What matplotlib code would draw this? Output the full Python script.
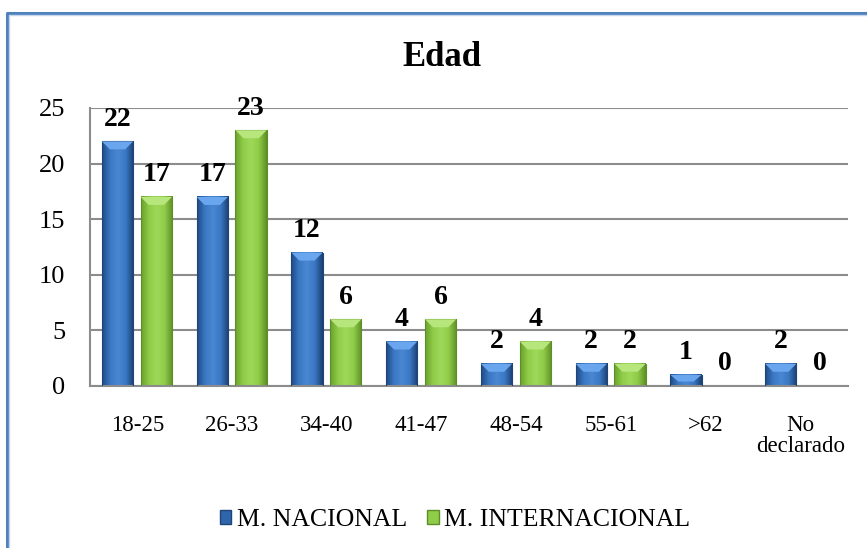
import numpy as np
import matplotlib.pyplot as plt
from matplotlib.colors import LinearSegmentedColormap
from matplotlib.patches import Polygon, Patch
from matplotlib.lines import Line2D

categorias = ['18-25', '26-33', '34-40', '41-47', '48-54', '55-61', '>62', 'No\ndeclarado']
nacional = [22, 17, 12, 4, 2, 2, 1, 2]
internacional = [17, 23, 6, 6, 4, 2, 0, 0]
series_names = ['M. NACIONAL', 'M. INTERNACIONAL']
yticks = [0, 5, 10, 15, 20, 25]

plt.rcParams['font.family'] = ['Liberation Serif', 'DejaVu Serif']

fig = plt.figure(figsize=(8.67, 5.48), dpi=100)
ax = fig.add_axes([90/867, 1-386/548, 758/867, 278/548])

# excel-ish bevel gradients
blue_cmap = LinearSegmentedColormap.from_list('b', ['#1f4a86', '#3a78c4', '#4a88d4', '#3a78c4', '#1b3f72'])
green_cmap = LinearSegmentedColormap.from_list('g', ['#6aa12c', '#8fcc48', '#9ed95a', '#8fcc48', '#5f8f26'])
grad = np.linspace(0, 1, 64).reshape(1, -1)

x = np.arange(len(categorias))
w = 0.33
offsets = [-0.21, 0.20]
ppu_y = 278 / 25.0   # pixels per y unit
ppu_x = 758 / 8.0

def draw_bars(xs, vals, cmap, top_col, edge_col):
    for xc, v in zip(xs, vals):
        if v <= 0:
            continue
        x0, x1 = xc - w/2, xc + w/2
        ax.imshow(grad, extent=[x0, x1, 0, v], aspect='auto', cmap=cmap, zorder=2,
                  interpolation='bicubic')
        ax.plot([x0, x0, x1, x1], [0, v, v, 0], color=edge_col, lw=0.8, zorder=3)
        b = min(8 / ppu_y, v * 0.6)
        d = 8 / ppu_x
        ax.add_patch(Polygon([(x0, v), (x1, v), (x1 - d, v - b), (x0 + d, v - b)],
                             closed=True, facecolor=top_col, edgecolor='none', zorder=3))

draw_bars(x + offsets[0], nacional, blue_cmap, '#6aa6ee', '#1e4478')
draw_bars(x + offsets[1], internacional, green_cmap, '#b6e67c', '#5e8e28')

for xs, vals in [(x + offsets[0], nacional), (x + offsets[1], internacional)]:
    for xc, v in zip(xs, vals):
        ax.annotate(str(v), (xc, v), xytext=(0, 7), textcoords='offset points',
                    ha='center', va='bottom', fontsize=20, fontweight='bold', zorder=5)

ax.set_xlim(-0.5, len(categorias) - 0.5)
ax.set_ylim(0, 25)
ax.set_yticks(yticks)
ax.set_xticks(x)
ax.set_xticklabels(categorias, fontsize=16.5, linespacing=1.0)
ax.tick_params(axis='y', labelsize=19, length=0, pad=18)
ax.tick_params(axis='x', length=0, pad=21)
ax.yaxis.grid(True, color='#8c8c8c', lw=1.5)
ax.set_axisbelow(True)
for s in ['top', 'right']:
    ax.spines[s].set_visible(False)
for s in ['left', 'bottom']:
    ax.spines[s].set_color('#8c8c8c')
    ax.spines[s].set_linewidth(1.5)

fig.text(442/867, 1-57/548, 'Edad', ha='center', va='center', fontsize=25, fontweight='bold')

handles = [Patch(facecolor='#2f65aa', edgecolor='#1e4478'),
           Patch(facecolor='#8fcc48', edgecolor='#5e8e28')]
fig.legend(handles, series_names, loc='center', bbox_to_anchor=(455/867, 1-520/548),
           ncol=2, frameon=False, fontsize=18.5, handlelength=0.45, handleheight=0.45,
           handletextpad=0.2, columnspacing=0.8)

# chart frame (cut off on the right/bottom)
fx, fy = 7/867, 1-13/548
fig.add_artist(Line2D([fx, fx, 1.0], [0, fy, fy], transform=fig.transFigure,
                      color='#4f81bd', lw=2.2))
fig.add_artist(Line2D([fx + 2/867, fx + 2/867, 1.0], [0, fy - 2/548, fy - 2/548],
                      transform=fig.transFigure, color='#c5d6ec', lw=1))

fig.savefig('out.png', dpi=100)
